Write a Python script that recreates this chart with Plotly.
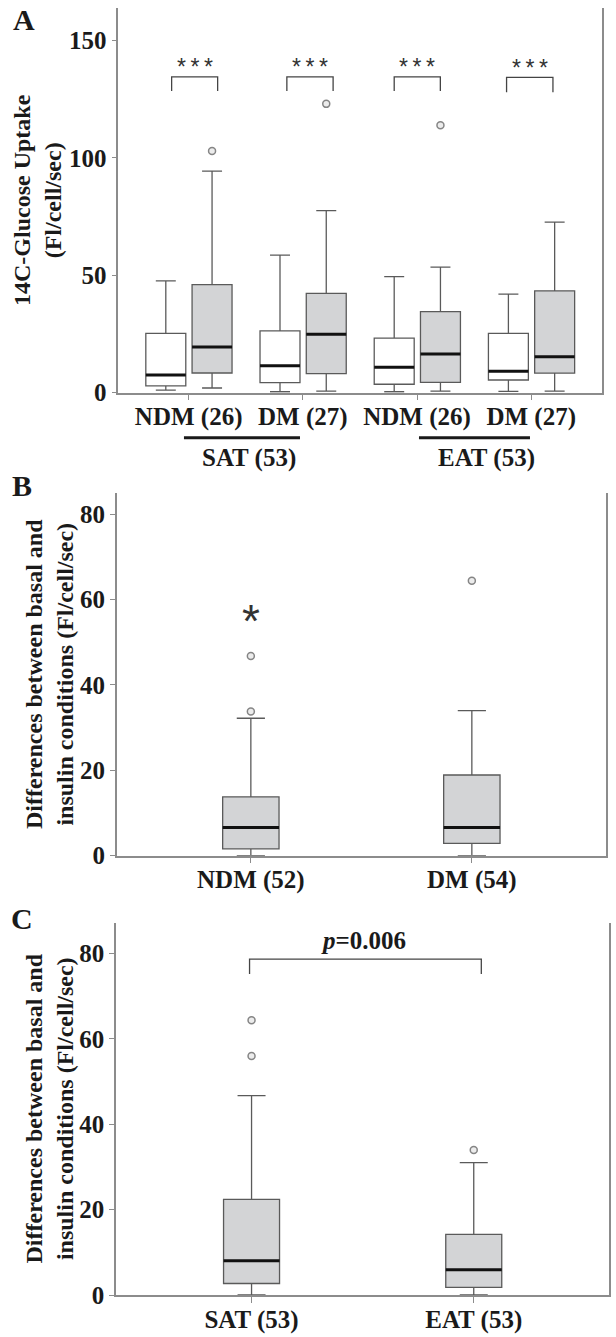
import plotly.graph_objects as go

W, H = 616, 1337

# ---------------- Panel A data ----------------
a_groups = ["NDM (26)", "DM (27)", "NDM (26)", "DM (27)"]
a_tissues = ["SAT (53)", "EAT (53)"]
a_basal_low = [1.1, 0.4, 0.4, 0.6]
a_basal_q1 = [2.9, 4.3, 3.6, 5.4]
a_basal_med = [7.5, 11.5, 10.8, 9.1]
a_basal_q3 = [25.3, 26.3, 23.2, 25.3]
a_basal_high = [47.6, 58.6, 49.4, 42.0]
a_ins_low = [2.0, 0.7, 0.7, 0.7]
a_ins_q1 = [8.4, 8.1, 4.4, 8.3]
a_ins_med = [19.5, 24.9, 16.5, 15.3]
a_ins_q3 = [46.0, 42.3, 34.5, 43.4]
a_ins_high = [94.4, 77.5, 53.5, 72.6]
a_ins_out_group = [0, 1, 2]
a_ins_out_val = [102.9, 123.0, 113.9]
a_sig = ["*\u2009*\u2009*"] * 4
a_bracket_top = [134.5, 134.5, 134.5, 134.3]
a_bracket_leg = [128.5, 128.5, 128.5, 127.9]

# ---------------- Panel B data ----------------
b_groups = ["NDM (52)", "DM (54)"]
b_low = [0.0, 0.0]
b_q1 = [1.6, 2.9]
b_med = [6.6, 6.6]
b_q3 = [13.8, 18.9]
b_high = [32.2, 34.0]
b_out_group = [0, 0, 1]
b_out_val = [33.8, 46.8, 64.4]
b_ext_group = [0]
b_ext_val = [56.9]

# ---------------- Panel C data ----------------
c_groups = ["SAT (53)", "EAT (53)"]
c_low = [0.0, 0.0]
c_q1 = [2.7, 1.8]
c_med = [8.0, 5.9]
c_q3 = [22.4, 14.2]
c_high = [46.7, 31.0]
c_out_group = [0, 0, 1]
c_out_val = [64.4, 56.0, 34.0]
c_bracket_top = 78.7
c_bracket_leg = 75.2
c_p_label = "<i>p</i>=0.006"

# ---------------- styles ----------------
SERIF = "Liberation Serif"
TXT = "#1a1a1a"
AXC = "#8c8c8c"
BOXLINE = "#5a5a5a"
GRAYFILL = "#d3d4d6"


def px_x(p):
    return p / W


def px_y(p):
    return 1 - p / H


fig = go.Figure()


def add_box(pos, lo, q1, med, q3, hi, width, fill, xa, ya):
    fig.add_trace(go.Box(
        x=[pos], lowerfence=[lo], q1=[q1], median=[med], q3=[q3], upperfence=[hi],
        width=width, fillcolor=fill, line=dict(color=BOXLINE, width=1.3),
        whiskerwidth=0.5, boxpoints=False, showlegend=False, hoverinfo="skip",
        xaxis=xa, yaxis=ya))


def add_medians(pos_list, med_list, width, xa, ya):
    xs, ys = [], []
    for p, m in zip(pos_list, med_list):
        xs += [p - width / 2, p + width / 2, None]
        ys += [m, m, None]
    fig.add_trace(go.Scatter(x=xs, y=ys, mode="lines", line=dict(color="#111111", width=3),
                             showlegend=False, hoverinfo="skip", xaxis=xa, yaxis=ya))


def add_outliers(xs, ys, xa, ya):
    fig.add_trace(go.Scatter(x=xs, y=ys, mode="markers",
                             marker=dict(symbol="circle", size=7, color="#ececec",
                                         line=dict(color="#858585", width=1.5)),
                             showlegend=False, hoverinfo="skip", cliponaxis=False,
                             xaxis=xa, yaxis=ya))


# ---------- Panel A ----------
wA = 0.35
offL, offR = -0.2, 0.205
for i in range(len(a_groups)):
    add_box(i + offL, a_basal_low[i], a_basal_q1[i], a_basal_med[i], a_basal_q3[i],
            a_basal_high[i], wA, "white", "x", "y")
    add_box(i + offR, a_ins_low[i], a_ins_q1[i], a_ins_med[i], a_ins_q3[i],
            a_ins_high[i], wA, GRAYFILL, "x", "y")
add_medians([i + offL for i in range(4)] + [i + offR for i in range(4)],
            a_basal_med + a_ins_med, wA, "x", "y")
add_outliers([g + offR for g in a_ins_out_group], a_ins_out_val, "x", "y")

# brackets A
bx_off = [(-0.149, 0.254), (-0.14, 0.265), (-0.2, 0.204), (-0.216, 0.19)]
xs, ys = [], []
for i in range(4):
    l, r = bx_off[i]
    xs += [i + l, i + l, i + r, i + r, None]
    ys += [a_bracket_leg[i], a_bracket_top[i], a_bracket_top[i], a_bracket_leg[i], None]
fig.add_trace(go.Scatter(x=xs, y=ys, mode="lines", line=dict(color="#444444", width=1.3),
                         showlegend=False, hoverinfo="skip", xaxis="x", yaxis="y"))

annotations = []
for i in range(4):
    l, r = bx_off[i]
    annotations.append(dict(x=i + (l + r) / 2, y=a_bracket_top[i] - 2.3, xref="x", yref="y",
                            text=a_sig[i], showarrow=False, yanchor="bottom",
                            font=dict(family="Liberation Sans", size=23, color="#333333")))

# ---------- Panel B ----------
wB = 0.255
for i in range(2):
    add_box(i, b_low[i], b_q1[i], b_med[i], b_q3[i], b_high[i], wB, GRAYFILL, "x2", "y2")
add_medians([0, 1], b_med, wB, "x2", "y2")
add_outliers(b_out_group, b_out_val, "x2", "y2")
for g, v in zip(b_ext_group, b_ext_val):
    annotations.append(dict(x=g, y=v, xref="x2", yref="y2", text="*", showarrow=False,
                            xanchor="center", yanchor="middle", yshift=-8,
                            font=dict(family="Liberation Sans", size=46, color="#333333")))

# ---------- Panel C ----------
wC = 0.252
for i in range(2):
    add_box(i, c_low[i], c_q1[i], c_med[i], c_q3[i], c_high[i], wC, GRAYFILL, "x3", "y3")
add_medians([0, 1], c_med, wC, "x3", "y3")
add_outliers(c_out_group, c_out_val, "x3", "y3")
fig.add_trace(go.Scatter(x=[-0.009, -0.009, 1.034, 1.034],
                         y=[c_bracket_leg, c_bracket_top, c_bracket_top, c_bracket_leg],
                         mode="lines", line=dict(color="#444444", width=1.3),
                         showlegend=False, hoverinfo="skip", xaxis="x3", yaxis="y3"))
annotations.append(dict(x=0.503, y=c_bracket_top + 0.8, xref="x3", yref="y3", text=c_p_label,
                        showarrow=False, yanchor="bottom",
                        font=dict(family=SERIF, size=25, color=TXT, weight="bold")))

# ---------- axes ----------
tickfont = dict(family=SERIF, size=25, color=TXT, weight="bold")


def xaxis_cfg(domain, rng, labels):
    return dict(domain=domain, range=rng, tickmode="array", tickvals=list(range(len(labels))),
                ticktext=labels, showline=True, linecolor=AXC, linewidth=1.5, mirror=False,
                ticks="outside", ticklen=6, tickcolor=AXC, tickwidth=1.3, showgrid=False,
                zeroline=False, tickfont=tickfont, automargin=False, fixedrange=True,
                ticklabelstandoff=-5)


def yaxis_cfg(domain, rng, dtick, anchor):
    return dict(domain=domain, range=rng, dtick=dtick, tick0=0, showline=True, linecolor=AXC,
                linewidth=1.5, mirror=True, ticks="outside", ticklen=5, tickcolor=AXC,
                tickwidth=1.3, showgrid=False, zeroline=False, tickfont=tickfont,
                automargin=False, anchor=anchor, fixedrange=True)


fig.update_layout(
    xaxis=xaxis_cfg([px_x(118.3), px_x(601.7)], [-0.616, 3.617], a_groups) | dict(anchor="y"),
    yaxis=yaxis_cfg([px_y(392.7), px_y(8.3)], [0, 163.7], 50, "x"),
    xaxis2=xaxis_cfg([px_x(116.7), px_x(606)], [-0.607, 1.607], b_groups) | dict(anchor="y2"),
    yaxis2=yaxis_cfg([px_y(855.7), px_y(493.3)], [0, 84.9], 20, "x2"),
    xaxis3=xaxis_cfg([px_x(116), px_x(609.3)], [-0.61, 1.61], c_groups) | dict(anchor="y3"),
    yaxis3=yaxis_cfg([px_y(1295), px_y(923.3)], [0, 87.1], 20, "x3"),
)

# tissue underline shapes and labels in panel A
tissue_spans = [(-0.041, 0.975), (2.017, 2.989)]
tissue_label_x = [0.528, 2.612]
shapes = []
for (x0, x1) in tissue_spans:
    shapes.append(dict(type="line", xref="x", yref="paper", x0=x0, x1=x1,
                       y0=px_y(437.7), y1=px_y(437.7), line=dict(color="#1a1a1a", width=3)))
for lab, xx in zip(a_tissues, tissue_label_x):
    annotations.append(dict(x=xx, y=px_y(458), xref="x", yref="paper", text=lab,
                            showarrow=False, yanchor="middle",
                            font=dict(family=SERIF, size=25, color=TXT, weight="bold")))

# panel letters
for lab, cx, cy in [("A", 24, 19), ("B", 22, 485), ("C", 22, 919)]:
    annotations.append(dict(x=px_x(cx), y=px_y(cy), xref="paper", yref="paper", text=lab,
                            showarrow=False, xanchor="center", yanchor="middle",
                            font=dict(family=SERIF, size=30, color=TXT, weight="bold")))

# y titles
for txt, cx, cy in [("14C-Glucose Uptake<br>(Fl/cell/sec)", 37, 200),
                    ("Differences between basal and<br>insulin conditions (Fl/cell/sec)", 49, 674),
                    ("Differences between basal and<br>insulin conditions (Fl/cell/sec)", 48.5, 1109)]:
    annotations.append(dict(x=px_x(cx), y=px_y(cy), xref="paper", yref="paper", text=txt,
                            showarrow=False, textangle=-90, xanchor="center", yanchor="middle",
                            font=dict(family=SERIF, size=24, color=TXT, weight="bold")))

fig.update_layout(
    width=W, height=H, margin=dict(l=0, r=0, t=0, b=0),
    paper_bgcolor="white", plot_bgcolor="white",
    boxmode="overlay", showlegend=False,
    annotations=annotations, shapes=shapes,
)

fig.write_html("out.html", config={"displayModeBar": False},
               post_script="document.body.style.margin='0';")
